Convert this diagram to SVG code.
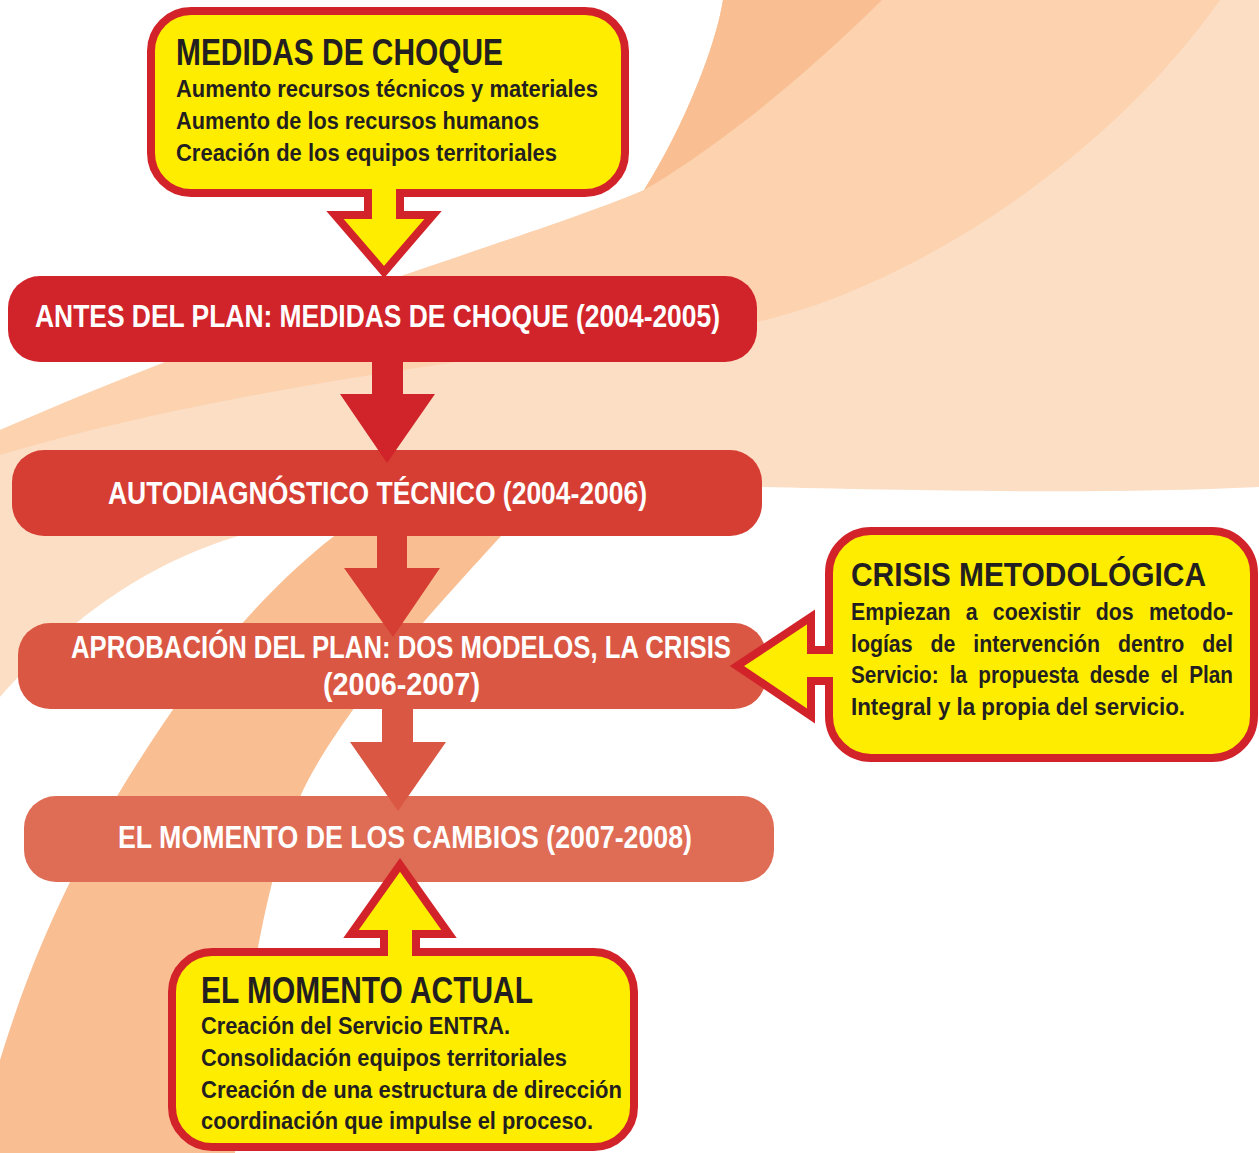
<svg xmlns="http://www.w3.org/2000/svg" width="1259" height="1153" viewBox="0 0 1259 1153">
  <style>
    .t { font-family: 'Liberation Sans Narrow','Liberation Sans',Arial,sans-serif; font-weight: bold; }
    .w { fill: #ffffff; font-size: 31px; }
    .h { fill: #231F20; }
    .b { fill: #231F20; font-size: 23px; }
    .callout { fill: #FFED00; stroke: #D2232A; stroke-width: 8; stroke-linejoin: miter; stroke-miterlimit: 10; }
  </style>
  <g id="background">
    <rect x="0" y="0" width="1259" height="1153" fill="#ffffff"/>
    <path fill="#FCDEC5" d="M 723 0 C 716 45 685 125 644 190 C 540 235 300 300 0 430 L 0 697 C 60 630 140 560 260 530 C 400 500 650 488 762 487 C 900 490 1100 495 1259 487 L 1259 0 Z"/>
    <path fill="#FCD2AF" d="M 723 0 L 1220 0 C 1100 170 900 290 757 322 C 450 360 200 395 0 455 L 0 430 C 300 300 540 235 644 190 C 685 125 716 45 723 0 Z"/>
    <path fill="#F9BE92" d="M 723 0 C 716 45 685 125 644 190 C 670 175 760 120 882 0 Z"/>
    <path fill="#F9BE92" d="M 420 455 L 575 455 C 530 505 460 580 423 623 C 380 670 320 750 300 797 C 270 870 245 980 235 1153 L 0 1153 L 0 1060 C 40 930 90 830 174 708 C 230 630 290 570 333 537 C 360 510 390 480 420 455 Z"/>
  </g>

  <g id="node-antes">
    <rect x="8" y="276" width="749" height="86" rx="32" fill="#D1232A"/>
    <text class="t w" x="35" y="327" textLength="685" lengthAdjust="spacingAndGlyphs">ANTES DEL PLAN: MEDIDAS DE CHOQUE (2004-2005)</text>
  </g>
  <g id="node-autodiagnostico">
    <rect x="12" y="450" width="750" height="86" rx="32" fill="#D63E34"/>
    <text class="t w" x="108" y="504" textLength="539" lengthAdjust="spacingAndGlyphs">AUTODIAGNÓSTICO TÉCNICO (2004-2006)</text>
  </g>
  <g id="node-aprobacion">
    <rect x="18" y="623" width="748" height="86" rx="32" fill="#DA5843"/>
    <text class="t w" x="71" y="658" textLength="660" lengthAdjust="spacingAndGlyphs">APROBACIÓN DEL PLAN: DOS MODELOS, LA CRISIS</text>
    <text class="t w" x="323" y="695" textLength="157" lengthAdjust="spacingAndGlyphs">(2006-2007)</text>
  </g>
  <g id="node-cambios">
    <rect x="24" y="796" width="750" height="86" rx="32" fill="#DF6C55"/>
    <text class="t w" x="118" y="848" textLength="574" lengthAdjust="spacingAndGlyphs">EL MOMENTO DE LOS CAMBIOS (2007-2008)</text>
  </g>

  <g id="connectors">
    <path fill="#D1232A" d="M 372 355 H 403 V 394 H 435 L 387 463 L 340 394 H 372 Z"/>
    <path fill="#D63E34" d="M 377 530 H 407 V 568 H 440 L 393 637 L 344 568 H 377 Z"/>
    <path fill="#DA5843" d="M 382 703 H 413 V 742 H 446 L 398 811 L 350 742 H 382 Z"/>
  </g>

  <g id="node-medidas-de-choque">
    <path class="callout" d="M 191 11 H 585 A 40 40 0 0 1 625 51 V 153 A 40 40 0 0 1 585 193 H 400 V 215 H 433 L 384 272 L 335 215 H 368 V 193 H 191 A 40 40 0 0 1 151 153 V 51 A 40 40 0 0 1 191 11 Z"/>
    <text class="t h" x="176" y="65" font-size="36" textLength="327" lengthAdjust="spacingAndGlyphs">MEDIDAS DE CHOQUE</text>
    <text class="t b" x="176" y="97" textLength="422" lengthAdjust="spacingAndGlyphs">Aumento recursos técnicos y materiales</text>
    <text class="t b" x="176" y="129" textLength="363" lengthAdjust="spacingAndGlyphs">Aumento de los recursos humanos</text>
    <text class="t b" x="176" y="161" textLength="381" lengthAdjust="spacingAndGlyphs">Creación de los equipos territoriales</text>
  </g>

  <g id="node-crisis-metodologica">
    <path class="callout" d="M 871 531 H 1212 A 42 42 0 0 1 1254 573 V 716 A 42 42 0 0 1 1212 758 H 871 A 42 42 0 0 1 829 716 V 681 H 811 V 716 L 737 666 L 811 617 V 650 H 829 V 573 A 42 42 0 0 1 871 531 Z"/>
    <text class="t h" x="851" y="586" font-size="33" textLength="355" lengthAdjust="spacingAndGlyphs">CRISIS METODOLÓGICA</text>
    <text class="t b" x="851" y="620" word-spacing="10" textLength="382" lengthAdjust="spacingAndGlyphs">Empiezan a coexistir dos metodo-</text>
    <text class="t b" x="851" y="652" word-spacing="13" textLength="382" lengthAdjust="spacingAndGlyphs">logías de intervención dentro del</text>
    <text class="t b" x="851" y="683" word-spacing="6" textLength="382" lengthAdjust="spacingAndGlyphs">Servicio: la propuesta desde el Plan</text>
    <text class="t b" x="851" y="715" textLength="334" lengthAdjust="spacingAndGlyphs">Integral y la propia del servicio.</text>
  </g>

  <g id="node-momento-actual">
    <path class="callout" d="M 212 952 H 384 V 934 H 351 L 400 865 L 449 934 H 416 V 952 H 594 A 40 40 0 0 1 634 992 V 1107 A 40 40 0 0 1 594 1147 H 212 A 40 40 0 0 1 172 1107 V 992 A 40 40 0 0 1 212 952 Z"/>
    <text class="t h" x="201" y="1003" font-size="37" textLength="332" lengthAdjust="spacingAndGlyphs">EL MOMENTO ACTUAL</text>
    <text class="t b" x="201" y="1034" font-size="24" textLength="309" lengthAdjust="spacingAndGlyphs">Creación del Servicio ENTRA.</text>
    <text class="t b" x="201" y="1066" font-size="24" textLength="366" lengthAdjust="spacingAndGlyphs">Consolidación equipos territoriales</text>
    <text class="t b" x="201" y="1098" font-size="24" textLength="421" lengthAdjust="spacingAndGlyphs">Creación de una estructura de dirección</text>
    <text class="t b" x="201" y="1129" font-size="24" textLength="392" lengthAdjust="spacingAndGlyphs">coordinación que impulse el proceso.</text>
  </g>
</svg>
